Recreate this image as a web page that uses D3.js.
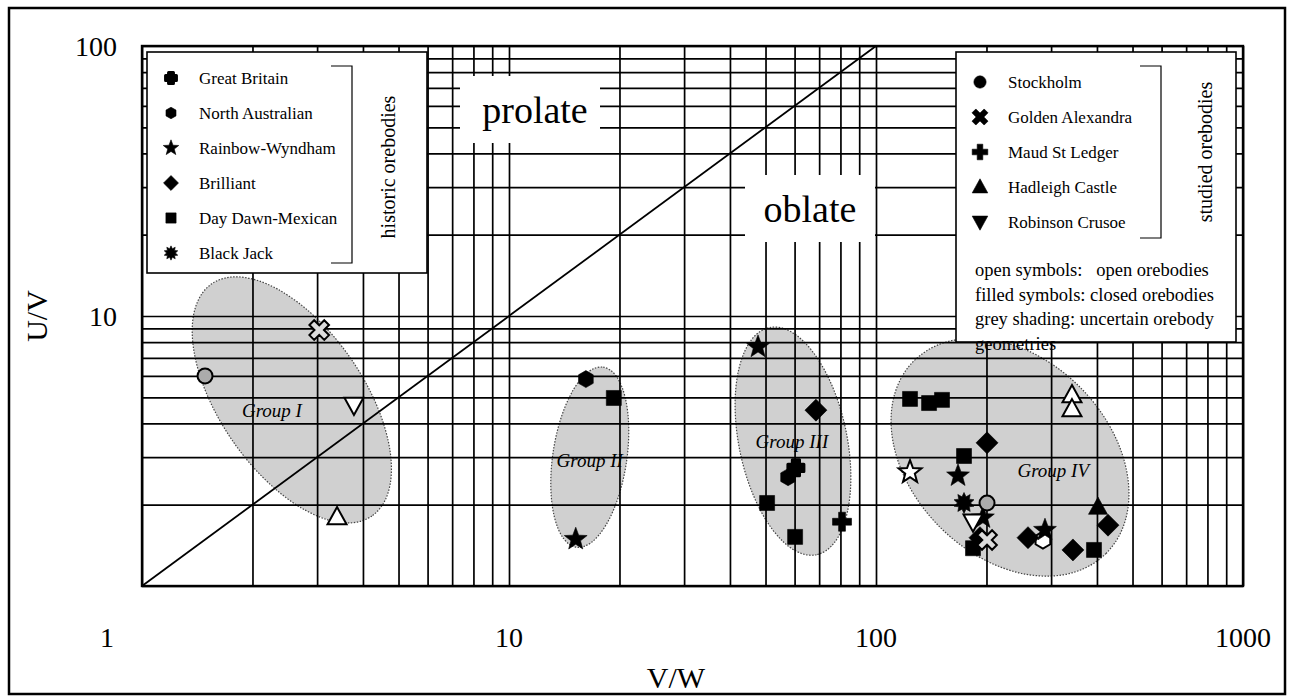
<!DOCTYPE html>
<meta charset="utf-8">
<html>
<head>
<style>
  body { margin: 0; background: #fff; }
  text { font-family: "Liberation Serif", "Times New Roman", serif; fill: #000; }
</style>
</head>
<body>
<div id="chart"></div>
<script src="https://d3js.org/d3.v7.min.js"></script>
<script>

// ---- data (V/W, U/V, open symbol?) ----
var greatBritain    = [[60.5, 2.74, 0]];
var northAustralian = [[16.2, 5.84, 0], [57.6, 2.53, 0], [285, 1.48, 1]];
var rainbowWyndham  = [[15.2, 1.49, 0], [47.7, 7.68, 0], [123.8, 2.64, 1], [167.3, 2.56, 0], [195.6, 1.79, 0], [288.7, 1.61, 0]];
var brilliant       = [[68.6, 4.48, 0], [200.7, 3.39, 0], [192, 1.51, 0], [259.5, 1.51, 0], [344, 1.36, 0], [428.7, 1.68, 0]];
var dayDawn         = [[19.3, 4.97, 0], [50.5, 2.03, 0], [60.2, 1.52, 0], [123.8, 4.93, 0], [139.5, 4.76, 0], [151.3, 4.89, 0], [173.7, 3.03, 0], [183.8, 1.38, 0], [392.6, 1.36, 0]];
var blackJack       = [[173.7, 2.03, 0]];
var stockholm       = [[1.485, 6.0, 1], [200.7, 2.03, 1]];
var goldenAlexandra = [[3.04, 8.87, 1], [200.7, 1.48, 1]];
var maudStLedger    = [[80.8, 1.73, 0]];
var hadleighCastle  = [[3.40, 1.80, 1], [342, 5.10, 1], [342, 4.52, 1], [402.6, 1.96, 0]];
var robinsonCrusoe  = [[3.78, 4.68, 1], [183.8, 1.73, 1]];

var historicNames = ["Great Britain", "North Australian", "Rainbow-Wyndham", "Brilliant", "Day Dawn-Mexican", "Black Jack"];
var historicShapes = ["roundplus", "hexagon", "star", "diamond", "square", "burst"];
var historicData = [greatBritain, northAustralian, rainbowWyndham, brilliant, dayDawn, blackJack];

var studiedNames = ["Stockholm", "Golden Alexandra", "Maud St Ledger", "Hadleigh Castle", "Robinson Crusoe"];
var studiedShapes = ["circle", "xcross", "plus", "triUp", "triDown"];
var studiedData = [stockholm, goldenAlexandra, maudStLedger, hadleighCastle, robinsonCrusoe];

var groupNames   = ["Group I", "Group II", "Group III", "Group IV"];
var groupCentreX = [2.56, 16.6, 59.4, 231.8];
var groupCentreY = [4.89, 3.00, 3.44, 3.00];
var groupLabelX  = [2.26, 16.6, 59.0, 304];
var groupLabelY  = [4.23, 2.76, 3.24, 2.53];

var xTickValues = [1, 10, 100, 1000];
var xTickLabels = ["1", "10", "100", "1000"];
var yTickValues = [10, 100];
var yTickLabels = ["10", "100"];

var notes = ["open symbols:   open orebodies", "filled symbols: closed orebodies",
             "grey shading: uncertain orebody", "geometries"];

// ---- layout ----
var width = 1293, height = 700;
var x = d3.scaleLog().domain([1, 1000]).range([142, 1243]);
var y = d3.scaleLog().domain([1, 100]).range([586, 46]);

// ellipse shapes in pixels (semi axes + rotation)
var ellipseShape = [
  {a: 141, b: 72, rot: 55.4},
  {a: 91, b: 37, rot: -81.5},
  {a: 116, b: 54, rot: 78.3},
  {a: 136, b: 99, rot: 45}
];

var svg = d3.select("#chart").append("svg")
  .attr("width", width).attr("height", height);

svg.append("rect").attr("x", 9).attr("y", 8).attr("width", 1276).attr("height", 686)
  .style("fill", "#fff").style("stroke", "#000").style("stroke-width", 2.5);

// grey shaded groups
groupNames.forEach(function(g, i) {
  var e = ellipseShape[i];
  svg.append("ellipse")
    .attr("transform", "translate(" + x(groupCentreX[i]) + "," + y(groupCentreY[i]) + ") rotate(" + e.rot + ")")
    .attr("rx", e.a).attr("ry", e.b)
    .style("fill", "#d0d0d0").style("stroke", "#444")
    .style("stroke-width", 1.2).style("stroke-dasharray", "1.5,1.5");
});

// grid
var gx = svg.append("g").attr("transform", "translate(0,586)")
  .call(d3.axisBottom(x).tickValues(x.ticks()).tickSize(-540).tickFormat(""));
var gy = svg.append("g").attr("transform", "translate(142,0)")
  .call(d3.axisLeft(y).tickValues(y.ticks()).tickSize(-1101).tickFormat(""));
[gx, gy].forEach(function(g) {
  g.select(".domain").remove();
  g.selectAll("line").style("stroke", "#000").style("stroke-width", 1.7);
});

// x = y line
svg.append("line")
  .attr("x1", x(1)).attr("y1", y(1)).attr("x2", x(100)).attr("y2", y(100))
  .style("stroke", "#000").style("stroke-width", 1.8);

svg.append("rect").attr("x", 142).attr("y", 46).attr("width", 1101).attr("height", 540)
  .style("fill", "none").style("stroke", "#000").style("stroke-width", 2.4);

// prolate / oblate
svg.append("rect").attr("x", 460).attr("y", 76).attr("width", 140).attr("height", 67).style("fill", "#fff");
svg.append("text").attr("x", 535).attr("y", 123).attr("text-anchor", "middle")
  .style("font-size", "38px").text("prolate");
svg.append("rect").attr("x", 745).attr("y", 175).attr("width", 130).attr("height", 67).style("fill", "#fff");
svg.append("text").attr("x", 810).attr("y", 222).attr("text-anchor", "middle")
  .style("font-size", "38px").text("oblate");

// group labels
groupNames.forEach(function(g, i) {
  svg.append("text").attr("x", x(groupLabelX[i])).attr("y", y(groupLabelY[i]))
    .attr("text-anchor", "middle").style("font-size", "19px").style("font-style", "italic").text(g);
});

// symbols
function poly(pts) {
  return "M" + pts.map(function(p) { return p[0].toFixed(2) + "," + p[1].toFixed(2); }).join("L") + "Z";
}
function starPts(n, ro, ri) {
  var pts = [];
  for (var k = 0; k < 2 * n; k++) {
    var r = k % 2 ? ri : ro, a = -Math.PI / 2 + k * Math.PI / n;
    pts.push([r * Math.cos(a), r * Math.sin(a)]);
  }
  return pts;
}
function plusPts(s, w) {
  return [[-w,-s],[w,-s],[w,-w],[s,-w],[s,w],[w,w],[w,s],[-w,s],[-w,w],[-s,w],[-s,-w],[-w,-w]];
}
var baseSize = {circle: 7.5, square: 7.5, diamond: 11, triUp: 10, triDown: 10, star: 12,
                hexagon: 8.5, plus: 9.5, xcross: 10.5, roundplus: 8, burst: 10.5};

function shapePath(type, s) {
  switch (type) {
    case "circle": return d3.symbol().type(d3.symbolCircle).size(Math.PI * s * s)();
    case "square": return poly([[-s,-s],[s,-s],[s,s],[-s,s]]);
    case "diamond": return poly([[0,-s],[s,0],[0,s],[-s,0]]);
    case "triUp": return poly([[0,-s],[s*0.95,s*0.72],[-s*0.95,s*0.72]]);
    case "triDown": return poly([[0,s],[s*0.95,-s*0.72],[-s*0.95,-s*0.72]]);
    case "star": return poly(starPts(5, s, s * 0.42));
    case "burst": return poly(starPts(10, s, s * 0.62));
    case "hexagon":
      var h = [];
      for (var k = 0; k < 6; k++) { var a = -Math.PI / 2 + k * Math.PI / 3; h.push([s * Math.cos(a), s * Math.sin(a)]); }
      return poly(h);
    case "plus": return poly(plusPts(s, s * 0.36));
    case "roundplus": return poly(plusPts(s, s * 0.45));
    case "xcross":
      var c = Math.SQRT1_2;
      return poly(plusPts(s, s * 0.32).map(function(p) { return [c*(p[0]-p[1]), c*(p[0]+p[1])]; }));
  }
}

function drawSymbol(g, type, px, py, open, scale) {
  var s = baseSize[type] * scale;
  var fill = open ? (type === "circle" ? "#ababab" : (type === "xcross" ? "#dcdcdc" : "#fff")) : "#000";
  g.append("path").attr("d", shapePath(type, s))
    .attr("transform", "translate(" + px + "," + py + ")")
    .style("fill", fill).style("stroke", "#000")
    .style("stroke-width", open ? 2 : (type === "roundplus" ? 3 : 0.6))
    .style("stroke-linejoin", type === "roundplus" ? "round" : "miter");
}

var marks = svg.append("g");
historicData.forEach(function(series, i) {
  series.forEach(function(d) { drawSymbol(marks, historicShapes[i], x(d[0]), y(d[1]), d[2], 1); });
});
studiedData.forEach(function(series, i) {
  series.forEach(function(d) { drawSymbol(marks, studiedShapes[i], x(d[0]), y(d[1]), d[2], 1); });
});

// axis labels
xTickValues.forEach(function(v, i) {
  svg.append("text").attr("x", x(v) - (v === 1 ? 35 : 0)).attr("y", 647)
    .attr("text-anchor", "middle").style("font-size", "28px").text(xTickLabels[i]);
});
yTickValues.forEach(function(v, i) {
  svg.append("text").attr("x", 117).attr("y", y(v) + 10)
    .attr("text-anchor", "end").style("font-size", "28px").text(yTickLabels[i]);
});
svg.append("text").attr("x", 676).attr("y", 688).attr("text-anchor", "middle")
  .style("font-size", "30px").text("V/W");
svg.append("text").attr("transform", "translate(47,316) rotate(-90)").attr("text-anchor", "middle")
  .style("font-size", "30px").text("U/V");

// legends
function legend(x0, y0, w, h, names, shapes, rowY, symScale, bracketX, bracketY0, bracketY1, title, titleX, titleY) {
  var g = svg.append("g");
  g.append("rect").attr("x", x0).attr("y", y0).attr("width", w).attr("height", h)
    .style("fill", "#fff").style("stroke", "#000").style("stroke-width", 1.6);
  names.forEach(function(n, i) {
    var ry = rowY + i * 35;
    drawSymbol(g, shapes[i], x0 + 24, ry, 0, symScale);
    g.append("text").attr("x", x0 + 52).attr("y", ry + 6).style("font-size", "17px").text(n);
  });
  g.append("path")
    .attr("d", "M" + (bracketX - 21) + "," + bracketY0 + "H" + bracketX + "V" + bracketY1 + "H" + (bracketX - 21))
    .style("fill", "none").style("stroke", "#000").style("stroke-width", 1.2);
  g.append("text").attr("transform", "translate(" + titleX + "," + titleY + ") rotate(-90)")
    .attr("text-anchor", "middle").attr("dy", "0.35em").style("font-size", "20px").text(title);
  return g;
}
legend(147, 52, 280, 221, historicNames, historicShapes, 78, 0.68, 352, 66, 263, "historic orebodies", 388, 167);
var rl = legend(956, 52, 280, 290, studiedNames, studiedShapes, 82, 0.82, 1161, 66, 238, "studied orebodies", 1205, 152);
notes.forEach(function(t, i) {
  rl.append("text").attr("x", 975).attr("y", 276 + i * 24.5)
    .style("font-size", "18.5px").style("white-space", "pre").text(t);
});

</script>
</body>
</html>
